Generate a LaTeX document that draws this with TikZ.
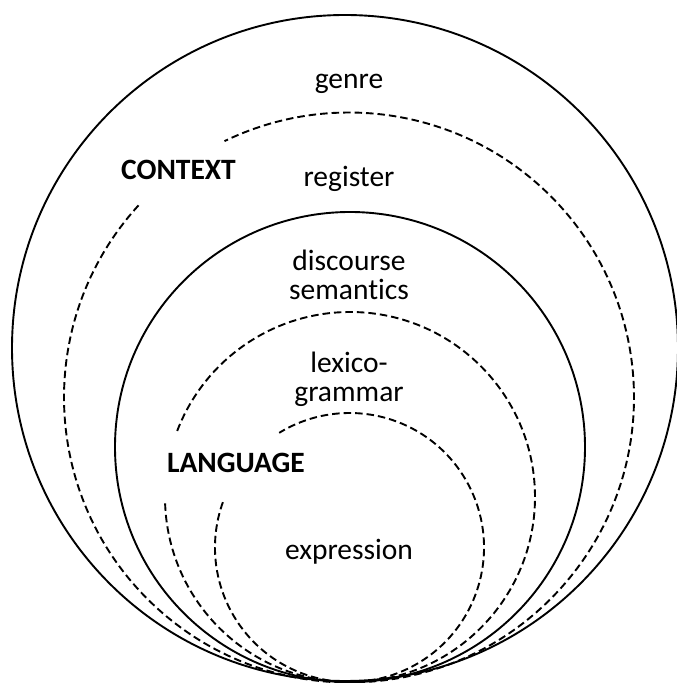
\documentclass[tikz,border=0pt]{standalone}
\usepackage{fontspec}
\setmainfont{Carlito}[Ligatures=CommonOff]
\begin{document}
\begin{tikzpicture}[x=1pt,y=1pt,
  ring/.style={line width=1.9pt},
  dashring/.style={line width=1.9pt,dash pattern=on 7.5pt off 4pt},
  lbl/.style={anchor=base,inner sep=0pt,font=\fontsize{29.5}{29}\selectfont,align=center},
  tag/.style={lbl,font=\fontsize{29.5}{29}\selectfont\bfseries}]
\useasboundingbox (0,0) rectangle (677,683);
% centres of the nested strata, all touching at the bottom
\coordinate (outc) at (345,335);
\coordinate (regc) at (349,285.5);
\coordinate (lanc) at (350,236);
\coordinate (lexc) at (350,186);
\coordinate (expc) at (349.5,135.5);
% context: genre (solid) and register (dashed, open at upper left)
\draw[ring] (outc) circle[radius=333];
\draw[dashring] (regc) ++(137.6:285) arc[start angle=137.6,end angle=475.9,radius=285];
% language: discourse semantics (solid), lexicogrammar and expression (dashed)
\draw[ring] (lanc) circle[radius=235];
\draw[dashring] (lexc) ++(182:185) arc[start angle=182,end angle=520,radius=185];
\draw[dashring] (expc) ++(160.3:134.5) arc[start angle=160.3,end angle=481.5,radius=134.5];
% labels (multi-line labels sit on the baseline of their last line)
\node[lbl] (genre) at (349,594) {genre};
\node[tag] (context) at (178.5,503) {CONTEXT};
\node[lbl] (register) at (349,496) {register};
\node[lbl] (discsem) at (349,383) {discourse\\semantics};
\node[lbl] (lexgram) at (349,281) {lexico-\\grammar};
\node[tag] (language) at (236,210) {LANGUAGE};
\node[lbl] (expression) at (349,123) {expression};
\end{tikzpicture}
\end{document}
